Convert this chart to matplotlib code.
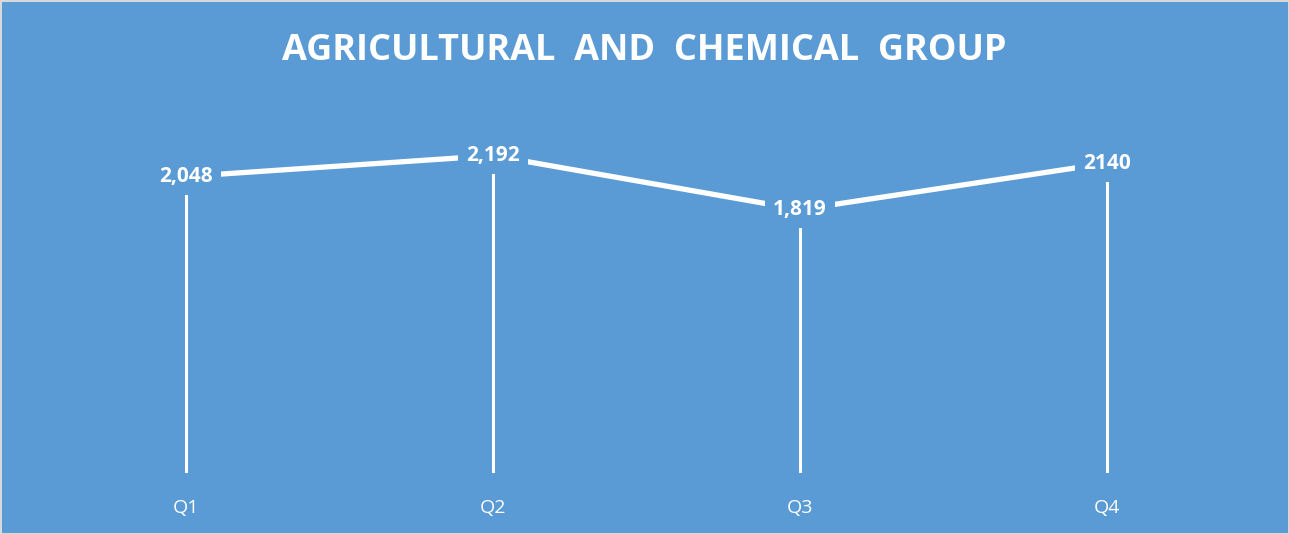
import matplotlib.pyplot as plt  # plotting
import numpy as np  # positions for the categories

# Quarterly figures for the group
quarters = ["Q1", "Q2", "Q3", "Q4"]
values = [2048, 2192, 1819, 2140]
value_labels = ["2,048", "2,192", "1,819", "2140"]
title = "AGRICULTURAL  AND  CHEMICAL  GROUP"

bg = "#5B9BD5"  # chart fill colour
fonts = ["Open Sans", "DejaVu Sans"]

fig = plt.figure(figsize=(12.89, 5.34), dpi=100, facecolor=bg)
fig.patch.set_edgecolor("#D9D9D9")
fig.patch.set_linewidth(2)

# Plot area placed to leave room for the title and the category labels
ax = fig.add_axes([32.5 / 1289, 1 - 473 / 534, 1228 / 1289, (473 - 111) / 534])
ax.set_facecolor(bg)

x = np.arange(len(quarters))

# Drop lines from each point down to the category axis
ax.vlines(x, 0, values, color="white", linewidth=2.2, zorder=2)
# The main line
ax.plot(x, values, color="white", linewidth=3.8, solid_capstyle="butt", zorder=3)

# Value labels sit on the points, boxed in the fill colour so they cut the lines
for xi, v, lab in zip(x, values, value_labels):
    ax.text(xi, v, lab, ha="center", va="center", color="white",
            fontsize=15, fontweight="bold", family=fonts,
            bbox=dict(boxstyle="square,pad=0.4", facecolor=bg, edgecolor="none"),
            zorder=4)

ax.set_xlim(-0.5, len(quarters) - 0.5)
ax.set_ylim(0, 2500)
ax.set_xticks(x)
ax.set_xticklabels(quarters, color="white", fontsize=14, family=fonts)
ax.tick_params(axis="x", length=0, pad=19)
ax.set_yticks([])
for s in ax.spines.values():
    s.set_visible(False)

# Title
fig.text(0.5, 1 - 51 / 534, title, ha="center", va="center", color="white",
         fontsize=26, fontweight="bold", family=fonts)

fig.savefig("out.png", dpi=100, facecolor=bg, edgecolor=fig.patch.get_edgecolor())
